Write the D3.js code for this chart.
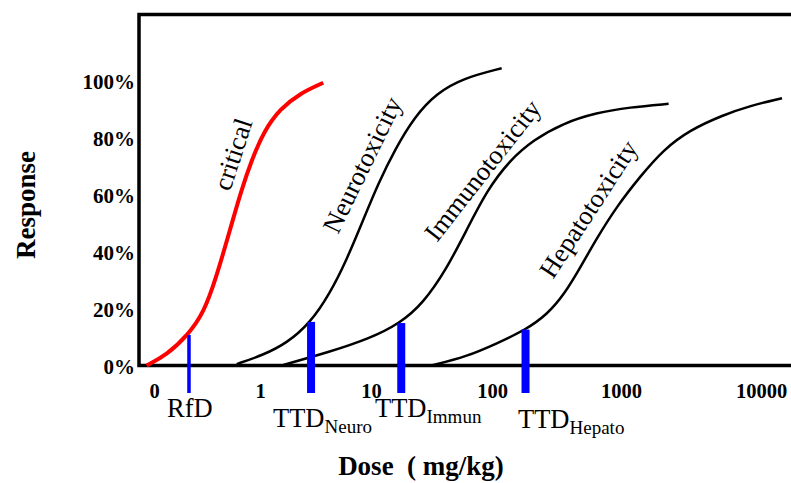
<html>
<head>
<meta charset="utf-8">
<script src="https://cdn.jsdelivr.net/npm/d3@7"></script>
<style>
  body { margin: 0; background: #fff; }
  text { font-family: "Liberation Serif", "Times New Roman", serif; }
</style>
</head>
<body>
<script>
var w = 791, h = 483;

// tick labels on the dose axis (one decade per step) and response ticks
var xTickLabels = ["0", "1", "10", "100", "1000", "10000"];
var xTickSteps = [0, 1, 2, 3, 4, 5];
var yTicks = [0, 20, 40, 60, 80, 100];

// curves: [dose step, response %]
var criticalCurve = [[-0.07, 0], [0.12, 3.7], [0.32, 10.7], [0.47, 18.5], [0.59, 31.2], [0.72, 48.0],
    [0.82, 61.0], [0.92, 72.0], [1.04, 82.5], [1.18, 90.0], [1.36, 95.5], [1.57, 99.2]];
var neuroCurve = [[0.78, 0.5], [1.03, 3.7], [1.24, 7.8], [1.45, 14.8], [1.63, 25.3], [1.78, 37.0],
    [1.93, 51.1], [2.06, 63.9], [2.20, 76.0], [2.36, 87.3], [2.54, 95.5], [2.76, 100.8], [3.075, 104.3]];
var immunoCurve = [[1.21, 0.2], [1.63, 4.8], [1.99, 9.5], [2.24, 14.8], [2.43, 21.8], [2.62, 33.5],
    [2.79, 47.5], [2.96, 61.6], [3.14, 72.1], [3.32, 79.1], [3.55, 85.0], [3.81, 88.7], [4.06, 90.6], [4.34, 91.8]];
var hepatoCurve = [[2.50, 0], [2.79, 3.1], [3.04, 7.8], [3.26, 12.5], [3.43, 18.0], [3.56, 25.0],
    [3.68, 34.0], [3.81, 44.5], [3.97, 56.0], [4.14, 66.5], [4.30, 75.6], [4.49, 82.6], [4.73, 87.9], [4.92, 91.1], [5.15, 93.8]];

var curveNames = ["critical", "Neurotoxicity", "Immunotoxicity", "Hepatotoxicity"];

// threshold markers
var markerNames = ["RfD", "TTD", "TTD", "TTD"];
var markerSubs = ["", "Neuro", "Immun", "Hepato"];
var markerDose = [0.33, 1.46, 2.25, 3.26];
var markerResponse = [10.7, 15.3, 14.9, 12.6];

// layout
var curveColors = ["#ff0000", "#000", "#000", "#000"];
var curveWidths = [4, 2.5, 2.5, 2.5];
var curveLabelPos = [[230, 192, -72], [338, 235, -64], [437, 243, -52], [553, 280, -57]];
var markerWidths = [3.5, 8, 8, 8];
var markerLabelPos = [[167, 417], [273, 427], [375, 417], [518, 428]];

var x = d3.scaleLinear().domain(xTickSteps).range([154, 260, 371, 492, 621, 761]);
var y = d3.scaleLinear().domain([0, 100]).range([365.5, 80.5]);

var svg = d3.select("body").append("svg")
    .attr("width", w)
    .attr("height", h);

// frame (right side runs off the page)
svg.append("path")
    .attr("d", "M" + (w + 10) + ",14.5H139V" + y(0) + "H" + (w + 10))
    .attr("fill", "none")
    .attr("stroke", "#000")
    .attr("stroke-width", 3.5);

// axes as labels only
var xAxis = svg.append("g")
    .attr("transform", "translate(0," + 383 + ")")
    .call(d3.axisBottom(x).tickValues(xTickSteps)
        .tickFormat(function(d, i) { return xTickLabels[i]; })
        .tickSize(0).tickPadding(0));
xAxis.select(".domain").remove();
xAxis.selectAll("text")
    .attr("font-family", "Liberation Serif, serif")
    .attr("font-size", "20.5px")
    .attr("font-weight", "bold")
    .attr("fill", "#000");

var yAxis = svg.append("g")
    .attr("transform", "translate(135,1.5)")
    .call(d3.axisLeft(y).tickValues(yTicks)
        .tickFormat(function(d) { return d + "%"; })
        .tickSize(0).tickPadding(0));
yAxis.select(".domain").remove();
yAxis.selectAll("text")
    .attr("font-family", "Liberation Serif, serif")
    .attr("font-size", "21px")
    .attr("font-weight", "bold")
    .attr("fill", "#000");

// curves
var line = d3.line()
    .x(function(d) { return x(d[0]); })
    .y(function(d) { return y(d[1]); })
    .curve(d3.curveBasis);

svg.selectAll("path.curve")
    .data([criticalCurve, neuroCurve, immunoCurve, hepatoCurve])
    .enter()
    .append("path")
    .attr("class", "curve")
    .attr("d", line)
    .attr("fill", "none")
    .attr("stroke", function(d, i) { return curveColors[i]; })
    .attr("stroke-width", function(d, i) { return curveWidths[i]; });

svg.selectAll("text.curvelabel")
    .data(curveNames)
    .enter()
    .append("text")
    .attr("class", "curvelabel")
    .attr("transform", function(d, i) {
        var p = curveLabelPos[i];
        return "translate(" + p[0] + "," + p[1] + ") rotate(" + p[2] + ")";
    })
    .attr("font-size", "26.5px")
    .text(function(d) { return d; });

// markers
svg.selectAll("rect.marker")
    .data(markerDose)
    .enter()
    .append("rect")
    .attr("class", "marker")
    .attr("x", function(d, i) { return x(d) - markerWidths[i] / 2; })
    .attr("y", function(d, i) { return y(markerResponse[i]); })
    .attr("width", function(d, i) { return markerWidths[i]; })
    .attr("height", function(d, i) { return y(0) + 27.5 - y(markerResponse[i]); })
    .attr("fill", "#0000ff");

var ml = svg.selectAll("text.markerlabel")
    .data(markerNames)
    .enter()
    .append("text")
    .attr("class", "markerlabel")
    .attr("x", function(d, i) { return markerLabelPos[i][0]; })
    .attr("y", function(d, i) { return markerLabelPos[i][1]; })
    .attr("font-size", "26.5px");
ml.append("tspan").text(function(d) { return d; });
ml.append("tspan")
    .attr("dy", 6)
    .attr("font-size", "19px")
    .text(function(d, i) { return markerSubs[i]; });

// axis titles
svg.append("text")
    .attr("x", 421)
    .attr("y", 475)
    .attr("text-anchor", "middle")
    .attr("font-size", "27px")
    .attr("font-weight", "bold")
    .style("white-space", "pre")
    .text("Dose  ( mg/kg)");

svg.append("text")
    .attr("transform", "translate(35,205) rotate(-90)")
    .attr("text-anchor", "middle")
    .attr("font-size", "27px")
    .attr("font-weight", "bold")
    .text("Response");
</script>
</body>
</html>
